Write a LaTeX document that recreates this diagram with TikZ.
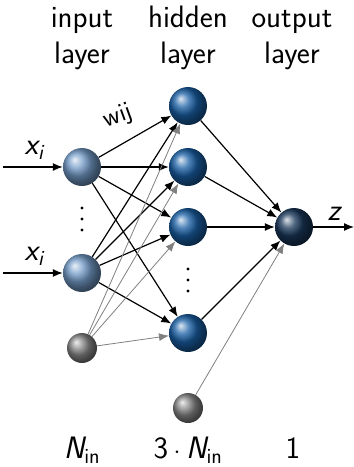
\documentclass[tikz,border=0pt]{standalone}
\usepackage{amsmath}
\usepackage{fontspec}
\usetikzlibrary{arrows.meta}
\definecolor{inball}{RGB}{115,155,200}
\definecolor{hidball}{RGB}{25,95,165}
\definecolor{outball}{RGB}{25,55,90}
\definecolor{biasball}{RGB}{135,135,135}
\newcommand\sv[1]{\textsf{\itshape #1}}
\begin{document}
\begin{tikzpicture}[x=1pt,y=-1pt,
  lbl/.style={font=\fontsize{31}{37}\selectfont\sffamily, inner sep=0pt, anchor=base},
  neuron/.style={circle, inner sep=0pt, minimum size=38pt},
  biasn/.style={circle, inner sep=0pt, minimum size=30pt, ball color=biasball},
  inn/.style={neuron, ball color=inball},
  hidn/.style={neuron, ball color=hidball},
  outn/.style={neuron, ball color=outball},
  dotc/.style={fill=black},
  conn/.style={line width=1.2pt, -{Latex[length=10pt,width=8pt]}},
  bconn/.style={line width=0.8pt, gray, -{Latex[length=10pt,width=8pt]}}
]
\useasboundingbox (0,0) rectangle (354,467);
% headers
\node[lbl] (t1a) at (82,27) {input};
\node[lbl] (t1b) at (82,63) {layer};
\node[lbl] (t2a) at (188,27) {hidden};
\node[lbl] (t2b) at (188,63) {layer};
\node[lbl] (t3a) at (292,27) {output};
\node[lbl] (t3b) at (292,63) {layer};
% nodes
\node[inn] (i1) at (82,167) {};
\node[inn] (i2) at (82,273) {};
\node[biasn] (ib) at (82,348) {};
\node[hidn] (h1) at (188,106) {};
\node[hidn] (h2) at (188,167) {};
\node[hidn] (h3) at (188,227) {};
\node[hidn] (h4) at (188,333) {};
\node[biasn] (hb) at (188,408) {};
\node[outn] (o) at (294,227) {};
% dots
\foreach \y in {208,219,230} \fill[dotc] (82,\y) circle (1.6pt);
\foreach \y in {269,280,291} \fill[dotc] (188,\y) circle (1.6pt);
% inputs
\coordinate (a1) at (3,167);
\coordinate (a2) at (3,273);
\coordinate (zo) at (354,227);
\draw[conn] (a1) -- (i1);
\draw[conn] (a2) -- (i2);
\draw[conn] (o) -- (zo);
\node[lbl] (x1) at (34,154) {$\sv{x}_{\sv{i}}$};
\node[lbl] (x2) at (34,260) {$\sv{x}_{\sv{i}}$};
\node[lbl] (zl) at (334,220) {$\sv{z}$};
% edges
\foreach \s in {i1,i2} \foreach \t in {h1,h2,h3,h4} \draw[conn] (\s) -- (\t);
\foreach \t in {h1,h2,h3,h4} \draw[bconn] (ib) -- (\t);
\foreach \s in {h1,h2,h3,h4} \draw[conn] (\s) -- (o);
\draw[bconn] (hb) -- (o);
\node[lbl, anchor=center, font=\fontsize{26}{30}\selectfont\sffamily, rotate=20] (w) at (118,117) {wij};
% bottom
\node[lbl] (b1) at (82,458) {$\sv{N}_{\textsf{in}}$};
\node[lbl] (b2) at (188,458) {$\textsf{3}\cdot\sv{N}_{\textsf{in}}$};
\node[lbl] (b3) at (293,458) {1};
\end{tikzpicture}
\end{document}
